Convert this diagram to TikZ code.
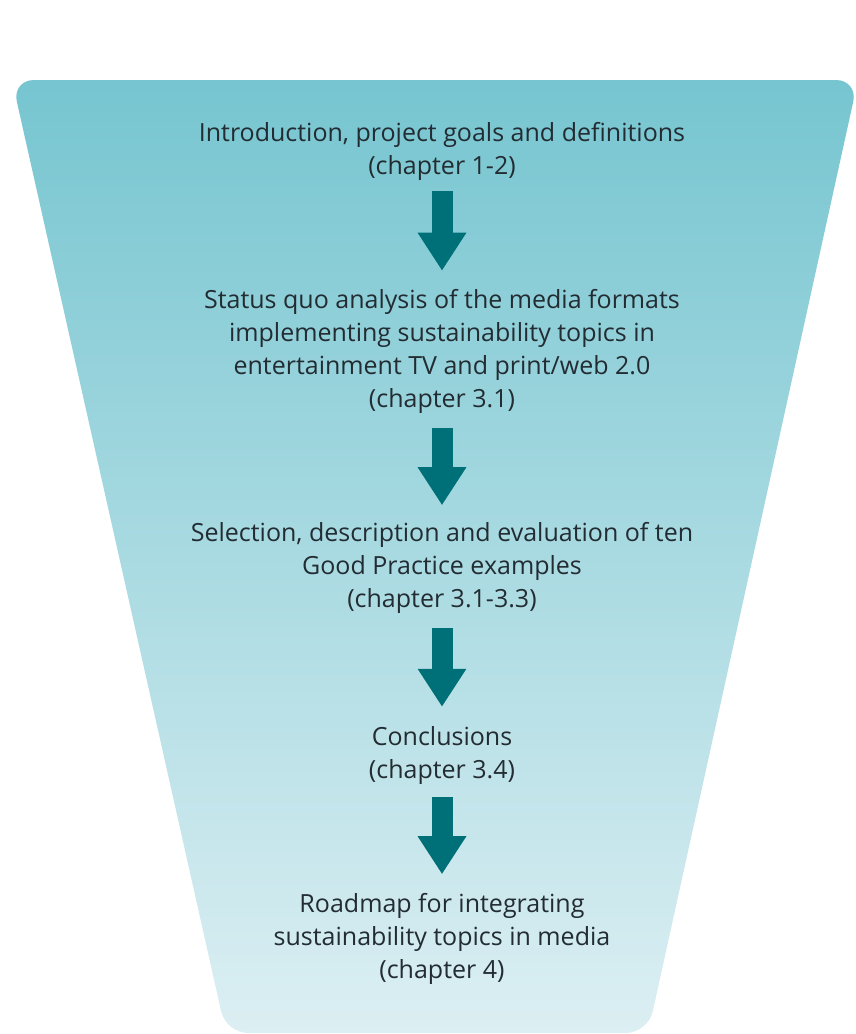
\documentclass[tikz,border=0pt]{standalone}
\usepackage{fontspec}
\setmainfont{Open Sans}
\usetikzlibrary{positioning,arrows.meta}
\definecolor{funneltop}{RGB}{118,197,208}
\definecolor{funnelbot}{RGB}{220,239,243}
\definecolor{arrowteal}{RGB}{0,112,120}
\definecolor{textdark}{RGB}{34,44,50}
\tikzset{
  stage/.style={align=center,inner sep=0pt,text=textdark,
    font=\fontsize{25}{33}\selectfont},
  flowarrow/.style={draw=arrowteal,line width=21pt,
    -{Triangle[width=46pt,length=38pt]}}
}
\begin{document}
\begin{tikzpicture}[x=1pt,y=-1pt]
\useasboundingbox (0,0) rectangle (855,1034);
\shade[top color=funneltop,bottom color=funnelbot,rounded corners=22pt]
  (12,80) -- (858,80) -- (648,1033) -- (226,1033) -- cycle;
\node[stage] (intro) at (442,151) {Introduction, project goals and definitions\\(chapter 1-2)};
\node[stage] (status) at (442,351) {Status quo analysis of the media formats\\implementing sustainability topics in\\entertainment TV and print/web 2.0\\(chapter 3.1)};
\node[stage] (select) at (442,568) {Selection, description and evaluation of ten\\Good Practice examples\\(chapter 3.1-3.3)};
\node[stage] (concl) at (442,755) {Conclusions\\(chapter 3.4)};
\node[stage] (road) at (442,939) {Roadmap for integrating\\sustainability topics in media\\(chapter 4)};
\draw[flowarrow] ([yshift=-11pt]intro.south) -- ([yshift=18pt]status.north);
\draw[flowarrow] ([yshift=-15pt]status.south) -- ([yshift=17pt]select.north);
\draw[flowarrow] ([yshift=-14pt]select.south) -- ([yshift=19pt]concl.north);
\draw[flowarrow] ([yshift=-13pt]concl.south) -- ([yshift=19pt]road.north);
\end{tikzpicture}
\end{document}
